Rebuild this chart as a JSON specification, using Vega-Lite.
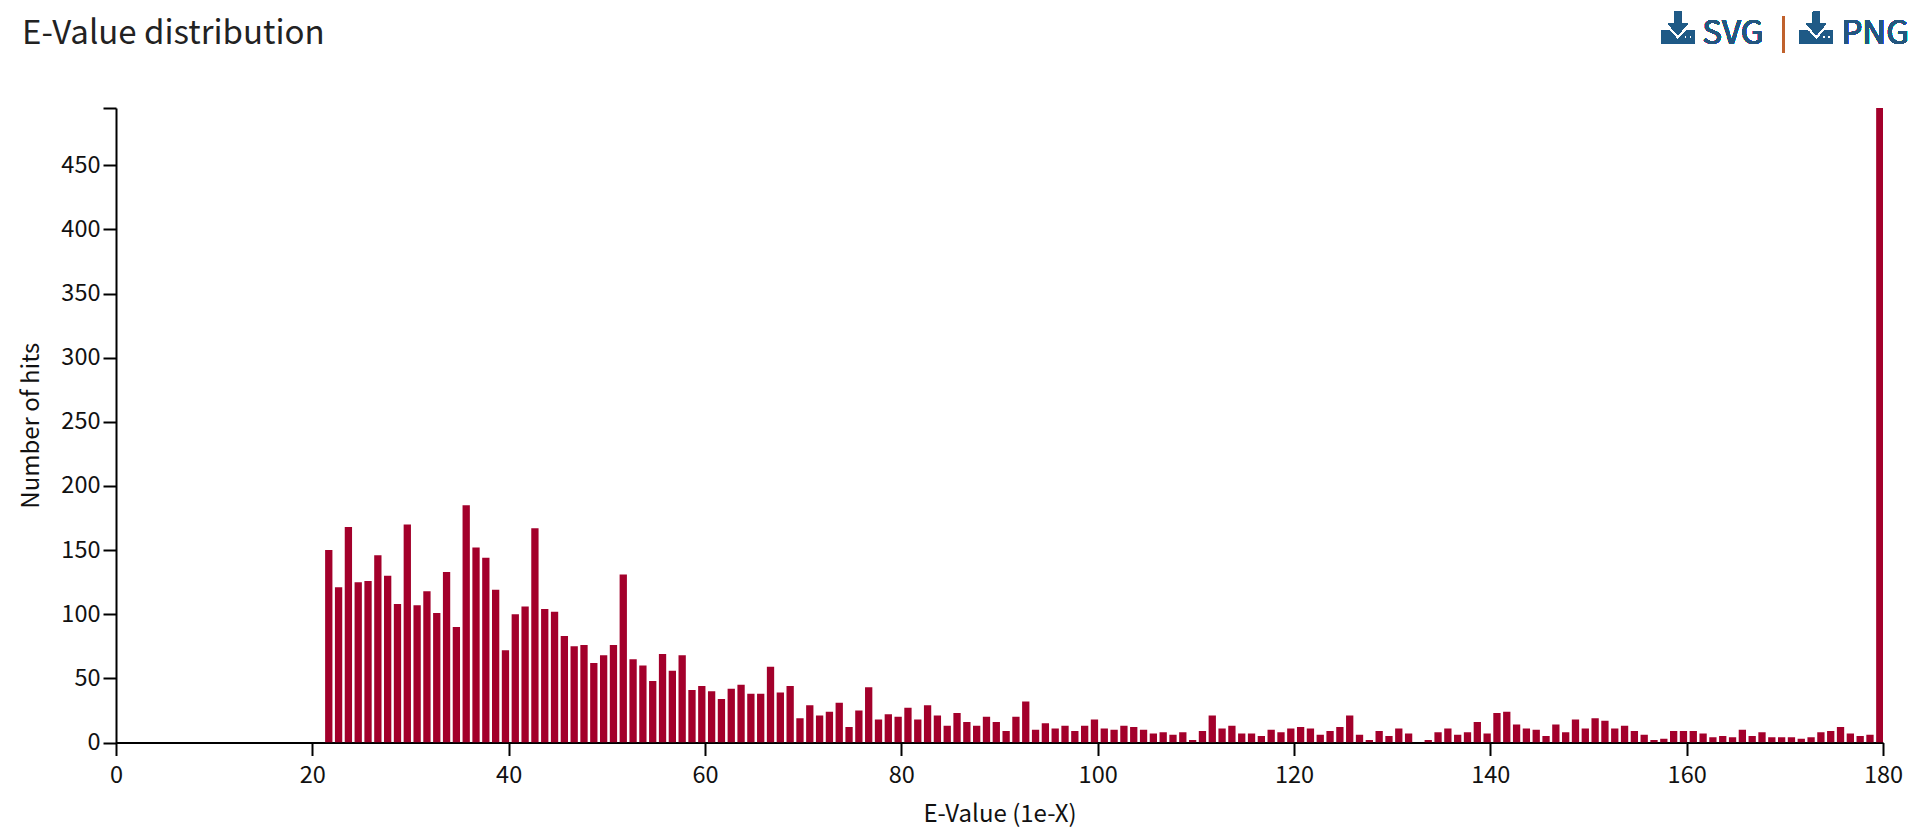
{"$schema":"https://vega.github.io/schema/vega-lite/v6.json","width":1767,"height":634.5,"autosize":{"type":"none"},"padding":{"left":116,"top":108,"right":37,"bottom":95.5},"background":"#ffffff","config":{"view":{"stroke":null},"font":"Noto Sans CJK JP"},"title":{"text":"E-Value distribution","anchor":"start","frame":"group","dx":-94,"fontSize":33,"fontWeight":"normal","color":"#222222","font":"Noto Sans CJK JP","offset":-39},"data":{"values":[{"e":22,"h":150},{"e":23,"h":121},{"e":24,"h":168},{"e":25,"h":125},{"e":26,"h":126},{"e":27,"h":146},{"e":28,"h":130},{"e":29,"h":108},{"e":30,"h":170},{"e":31,"h":107},{"e":32,"h":118},{"e":33,"h":101},{"e":34,"h":133},{"e":35,"h":90},{"e":36,"h":185},{"e":37,"h":152},{"e":38,"h":144},{"e":39,"h":119},{"e":40,"h":72},{"e":41,"h":100},{"e":42,"h":106},{"e":43,"h":167},{"e":44,"h":104},{"e":45,"h":102},{"e":46,"h":83},{"e":47,"h":75},{"e":48,"h":76},{"e":49,"h":62},{"e":50,"h":68},{"e":51,"h":76},{"e":52,"h":131},{"e":53,"h":65},{"e":54,"h":60},{"e":55,"h":48},{"e":56,"h":69},{"e":57,"h":56},{"e":58,"h":68},{"e":59,"h":41},{"e":60,"h":44},{"e":61,"h":40},{"e":62,"h":34},{"e":63,"h":42},{"e":64,"h":45},{"e":65,"h":38},{"e":66,"h":38},{"e":67,"h":59},{"e":68,"h":39},{"e":69,"h":44},{"e":70,"h":19},{"e":71,"h":29},{"e":72,"h":21},{"e":73,"h":24},{"e":74,"h":31},{"e":75,"h":12},{"e":76,"h":25},{"e":77,"h":43},{"e":78,"h":18},{"e":79,"h":22},{"e":80,"h":20},{"e":81,"h":27},{"e":82,"h":18},{"e":83,"h":29},{"e":84,"h":21},{"e":85,"h":13},{"e":86,"h":23},{"e":87,"h":16},{"e":88,"h":13},{"e":89,"h":20},{"e":90,"h":16},{"e":91,"h":9},{"e":92,"h":20},{"e":93,"h":32},{"e":94,"h":10},{"e":95,"h":15},{"e":96,"h":11},{"e":97,"h":13},{"e":98,"h":9},{"e":99,"h":13},{"e":100,"h":18},{"e":101,"h":11},{"e":102,"h":10},{"e":103,"h":13},{"e":104,"h":12},{"e":105,"h":10},{"e":106,"h":7},{"e":107,"h":8},{"e":108,"h":6},{"e":109,"h":8},{"e":110,"h":2},{"e":111,"h":9},{"e":112,"h":21},{"e":113,"h":11},{"e":114,"h":13},{"e":115,"h":7},{"e":116,"h":7},{"e":117,"h":5},{"e":118,"h":10},{"e":119,"h":8},{"e":120,"h":11},{"e":121,"h":12},{"e":122,"h":11},{"e":123,"h":6},{"e":124,"h":9},{"e":125,"h":12},{"e":126,"h":21},{"e":127,"h":6},{"e":128,"h":2},{"e":129,"h":9},{"e":130,"h":5},{"e":131,"h":11},{"e":132,"h":7},{"e":133,"h":0},{"e":134,"h":2},{"e":135,"h":8},{"e":136,"h":11},{"e":137,"h":6},{"e":138,"h":8},{"e":139,"h":16},{"e":140,"h":7},{"e":141,"h":23},{"e":142,"h":24},{"e":143,"h":14},{"e":144,"h":11},{"e":145,"h":10},{"e":146,"h":5},{"e":147,"h":14},{"e":148,"h":8},{"e":149,"h":18},{"e":150,"h":11},{"e":151,"h":19},{"e":152,"h":17},{"e":153,"h":11},{"e":154,"h":13},{"e":155,"h":9},{"e":156,"h":6},{"e":157,"h":2},{"e":158,"h":3},{"e":159,"h":9},{"e":160,"h":9},{"e":161,"h":9},{"e":162,"h":7},{"e":163,"h":4},{"e":164,"h":5},{"e":165,"h":4},{"e":166,"h":10},{"e":167,"h":5},{"e":168,"h":8},{"e":169,"h":4},{"e":170,"h":4},{"e":171,"h":4},{"e":172,"h":3},{"e":173,"h":4},{"e":174,"h":8},{"e":175,"h":9},{"e":176,"h":12},{"e":177,"h":7},{"e":178,"h":5},{"e":179,"h":6},{"e":180,"h":495}]},"encoding":{"x":{"field":"e","type":"quantitative","scale":{"domain":[0,180],"nice":false,"zero":true,"padding":0},"axis":{"values":[0,20,40,60,80,100,120,140,160,180],"title":"E-Value (1e-X)","grid":false,"domainColor":"#000000","domainWidth":2,"tickColor":"#000000","tickWidth":2,"tickSize":13,"labelFontSize":23.5,"labelColor":"#111111","labelPadding":8,"labelFlush":false,"titleFontSize":24,"titleFontWeight":"normal","titleColor":"#111111","titlePadding":15,"labelFont":"Noto Sans CJK JP","titleFont":"Noto Sans CJK JP"}},"y":{"field":"h","type":"quantitative","scale":{"domain":[0,494.7],"nice":false},"axis":{"values":[0,50,100,150,200,250,300,350,400,450,494.7],"labelExpr":"datum.value>450?'':datum.label","title":"Number of hits","grid":false,"domainColor":"#000000","domainWidth":2,"tickColor":"#000000","tickWidth":2,"tickSize":13,"labelFontSize":23.5,"labelColor":"#111111","labelPadding":3,"titleFontSize":24,"titleFontWeight":"normal","titleColor":"#111111","titlePadding":17,"labelFont":"Noto Sans CJK JP","titleFont":"Noto Sans CJK JP"}}},"layer":[{"mark":{"type":"bar","color":"#a3002b","size":7.3,"xOffset":-3.2,"clip":true}},{"mark":{"type":"text","text":"SVG","align":"left","baseline":"alphabetic","fontSize":33,"color":"#23567f","font":"Noto Sans CJK JP"},"encoding":{"x":{"datum":161.6},"y":{"datum":544.8}}},{"mark":{"type":"text","text":"PNG","align":"left","baseline":"alphabetic","fontSize":33,"color":"#23567f","font":"Noto Sans CJK JP"},"encoding":{"x":{"datum":175.77},"y":{"datum":544.8}}},{"mark":{"type":"rule","color":"#c0622d","strokeWidth":2},"encoding":{"x":{"datum":169.85},"y":{"datum":565.8},"y2":{"datum":537.8}}},{"mark":{"type":"point","filled":true,"color":"#1f5a86","opacity":1,"size":1089,"shape":"M-0.2 -1 L0.2 -1 L0.2 -0.3 L0.6 -0.3 L0 0.4 L-0.6 -0.3 L-0.2 -0.3 Z M-1 0.15 L-0.5 0.15 L0 0.7 L0.5 0.15 L1 0.15 L1 0.9 L-1 0.9 Z M0.4 0.45 L0.4 0.6 L0.55 0.6 L0.55 0.45 Z M0.7 0.45 L0.7 0.6 L0.85 0.6 L0.85 0.45 Z"},"encoding":{"x":{"datum":159.1},"y":{"datum":556.8}}},{"mark":{"type":"point","filled":true,"color":"#1f5a86","opacity":1,"size":1089,"shape":"M-0.2 -1 L0.2 -1 L0.2 -0.3 L0.6 -0.3 L0 0.4 L-0.6 -0.3 L-0.2 -0.3 Z M-1 0.15 L-0.5 0.15 L0 0.7 L0.5 0.15 L1 0.15 L1 0.9 L-1 0.9 Z M0.4 0.45 L0.4 0.6 L0.55 0.6 L0.55 0.45 Z M0.7 0.45 L0.7 0.6 L0.85 0.6 L0.85 0.45 Z"},"encoding":{"x":{"datum":173.2},"y":{"datum":556.8}}}]}
